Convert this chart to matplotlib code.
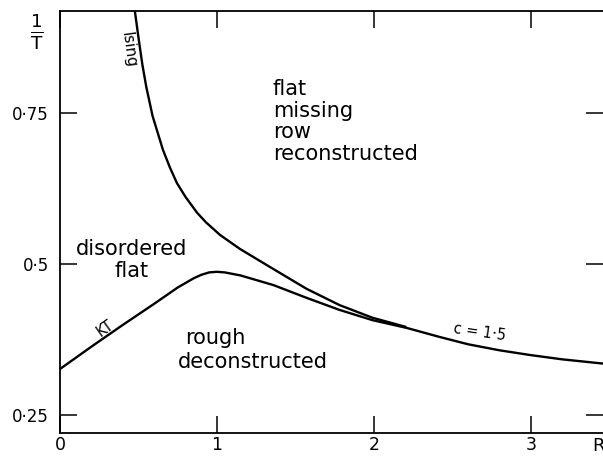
import matplotlib
matplotlib.use('Agg')
import matplotlib.pyplot as plt
import numpy as np

# Ising transition line (upper branch), R vs 1/T
r_ising = [0.465, 0.478, 0.50, 0.525, 0.55, 0.59, 0.656, 0.70, 0.745, 0.80, 0.873, 0.93, 1.02,
           1.146, 1.357, 1.57, 1.78, 1.99, 2.2]
t_ising = [0.95, 0.917, 0.875, 0.830, 0.793, 0.745, 0.689, 0.660, 0.634, 0.611, 0.585, 0.569, 0.548,
           0.525, 0.492, 0.459, 0.432, 0.411, 0.396]

# KT line, continuing as the c=1.5 line at large R
r_kt = [0.0, 0.2, 0.4, 0.6, 0.75, 0.85, 0.9, 0.95, 1.0, 1.05, 1.15, 1.36, 1.57, 1.78, 1.99, 2.21, 2.42,
        2.6, 2.8, 3.0, 3.2, 3.46]
t_kt = [0.326, 0.363, 0.399, 0.434, 0.461, 0.476, 0.482, 0.486, 0.487, 0.486, 0.481, 0.465, 0.444,
        0.424, 0.407, 0.394, 0.379, 0.367, 0.357, 0.349, 0.342, 0.335]

xticks = [0, 1, 2, 3]
xticklabels = ['0', '1', '2', '3']
yticks = [0.25, 0.5, 0.75]
yticklabels = ['0·25', '0·5', '0·75']

fig = plt.figure(figsize=(6.03, 4.57), dpi=100)
ax = fig.add_axes([60/603, 24/457, 543/603, 422/457])

ax.plot(r_ising, t_ising, 'k-', lw=1.7)
ax.plot(r_kt, t_kt, 'k-', lw=1.7)

ax.set_xlim(0, 3.46)
ax.set_ylim(0.220, 0.919)

ax.set_xticks(xticks)
ax.set_xticklabels(xticklabels, fontsize=12.5)
ax.set_yticks(yticks)
ax.set_yticklabels(yticklabels, fontsize=12)
ax.tick_params(direction='in', length=12, width=1.1, top=True, right=True)
ax.tick_params(axis='x', pad=2)
ax.tick_params(axis='y', pad=8)

ax.spines['right'].set_visible(False)
for s in ['left', 'top', 'bottom']:
    ax.spines[s].set_linewidth(1.3)

# region names
ax.text(1.357, 0.807, 'flat\nmissing\nrow\nreconstructed', ha='left', va='top',
        fontsize=15, linespacing=1.12)
ax.text(0.459, 0.507, 'disordered\nflat', ha='center', va='center', fontsize=15, linespacing=1.1)
ax.text(0.80, 0.377, 'rough', ha='left', va='center', fontsize=15)
ax.text(0.75, 0.338, 'deconstructed', ha='left', va='center', fontsize=15)

# line labels
ax.text(0.433, 0.854, 'Ising', ha='center', va='center', fontsize=11, rotation=-82)
ax.text(0.287, 0.394, 'KT', ha='center', va='center', fontsize=10.5, rotation=35)
ax.text(2.675, 0.387, 'c = 1·5', ha='center', va='center', fontsize=10.5, rotation=-8)

# axis names
ax.text(3.43, 0.199, 'R', ha='center', va='center', fontsize=13, clip_on=False)
ax.text(-0.146, 0.884, r'$\mathregular{\frac{1}{T}}$', ha='center', va='center', fontsize=19, clip_on=False)

plt.savefig('out.png', dpi=100)
